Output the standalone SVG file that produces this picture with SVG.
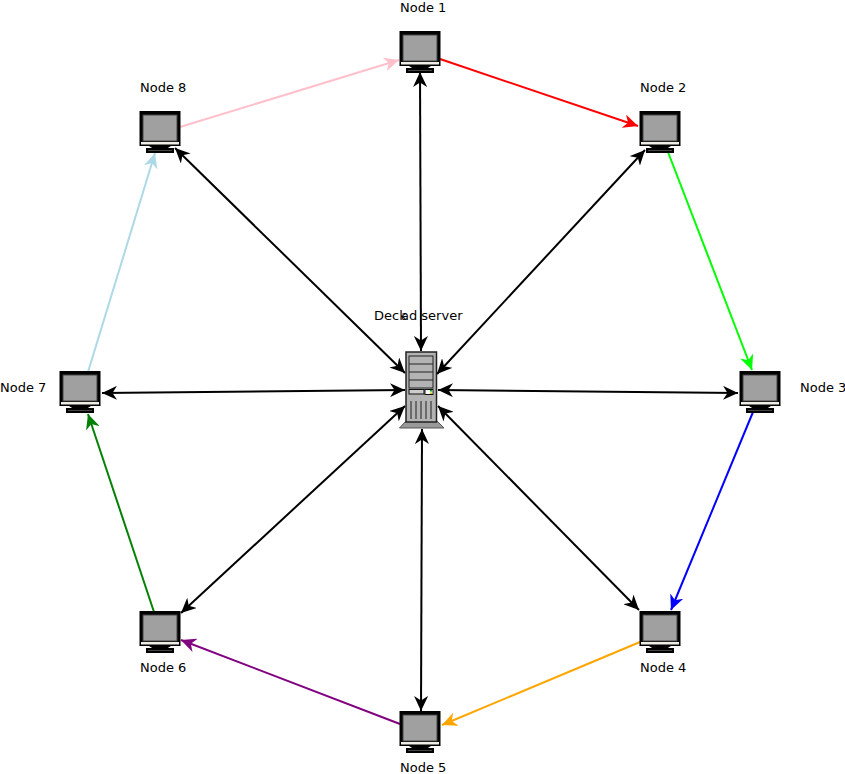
<svg xmlns="http://www.w3.org/2000/svg" xmlns:xlink="http://www.w3.org/1999/xlink" width="845" height="774" viewBox="0 0 845 774">
<style>
text{font-family:"DejaVu Sans",sans-serif;font-size:13px;fill:#000}
.c{fill:none;stroke-width:2}
.k{stroke:#000}
</style>
<defs>
<marker id="mk" markerUnits="userSpaceOnUse" markerWidth="16" markerHeight="14" refX="15" refY="7" orient="auto-start-reverse" viewBox="0 0 16 14"><path d="M0 0L15 7L0 14L4.500 7Z" fill="#000"/></marker>
<marker id="mpink" markerUnits="userSpaceOnUse" markerWidth="16" markerHeight="14" refX="15" refY="7" orient="auto" viewBox="0 0 16 14"><path d="M0 0L15 7L0 14L4.500 7Z" fill="#ffc0cb"/></marker>
<marker id="mred" markerUnits="userSpaceOnUse" markerWidth="16" markerHeight="14" refX="15" refY="7" orient="auto" viewBox="0 0 16 14"><path d="M0 0L15 7L0 14L4.500 7Z" fill="#f00"/></marker>
<marker id="mlime" markerUnits="userSpaceOnUse" markerWidth="16" markerHeight="14" refX="15" refY="7" orient="auto" viewBox="0 0 16 14"><path d="M0 0L15 7L0 14L4.500 7Z" fill="#0f0"/></marker>
<marker id="mblue" markerUnits="userSpaceOnUse" markerWidth="16" markerHeight="14" refX="15" refY="7" orient="auto" viewBox="0 0 16 14"><path d="M0 0L15 7L0 14L4.500 7Z" fill="#00f"/></marker>
<marker id="morange" markerUnits="userSpaceOnUse" markerWidth="16" markerHeight="14" refX="15" refY="7" orient="auto" viewBox="0 0 16 14"><path d="M0 0L15 7L0 14L4.500 7Z" fill="#ffa500"/></marker>
<marker id="mpurple" markerUnits="userSpaceOnUse" markerWidth="16" markerHeight="14" refX="15" refY="7" orient="auto" viewBox="0 0 16 14"><path d="M0 0L15 7L0 14L4.500 7Z" fill="#800080"/></marker>
<marker id="mgreen" markerUnits="userSpaceOnUse" markerWidth="16" markerHeight="14" refX="15" refY="7" orient="auto" viewBox="0 0 16 14"><path d="M0 0L15 7L0 14L4.500 7Z" fill="#008000"/></marker>
<marker id="mlb" markerUnits="userSpaceOnUse" markerWidth="16" markerHeight="14" refX="15" refY="7" orient="auto" viewBox="0 0 16 14"><path d="M0 0L15 7L0 14L4.500 7Z" fill="#add8e6"/></marker>
<g id="pc">
<rect x="-0.500" y="0" width="41" height="35" fill="#000"/>
<rect x="3" y="4" width="34" height="26" fill="#a0a0a0" stroke="#444" stroke-width="1"/>
<rect x="1" y="31" width="38" height="2.500" fill="#eeeee6"/>
<path d="M9 35H31L27 37.500H13Z" fill="#000"/>
<rect x="6" y="37" width="28" height="5" fill="#000"/>
<rect x="8" y="39" width="24" height="0.800" fill="#555"/>
</g>
</defs>
<g id="connectors">
<line class="c k" x1="420" y1="72" x2="421" y2="351" marker-start="url(#mk)" marker-end="url(#mk)"/>
<line class="c k" x1="645" y1="150" x2="437" y2="374" marker-start="url(#mk)" marker-end="url(#mk)"/>
<line class="c k" x1="738" y1="393" x2="438" y2="390" marker-start="url(#mk)" marker-end="url(#mk)"/>
<line class="c k" x1="639" y1="610" x2="438" y2="406" marker-start="url(#mk)" marker-end="url(#mk)"/>
<line class="c k" x1="421" y1="711" x2="422" y2="429" marker-start="url(#mk)" marker-end="url(#mk)"/>
<line class="c k" x1="181" y1="613" x2="405" y2="406" marker-start="url(#mk)" marker-end="url(#mk)"/>
<line class="c k" x1="102" y1="393" x2="405" y2="390" marker-start="url(#mk)" marker-end="url(#mk)"/>
<line class="c k" x1="175" y1="148" x2="405" y2="373" marker-start="url(#mk)" marker-end="url(#mk)"/>
<line class="c" stroke="#f00" x1="440" y1="59" x2="638" y2="126" marker-end="url(#mred)"/>
<line class="c" stroke="#0f0" x1="668" y1="152" x2="752" y2="370" marker-end="url(#mlime)"/>
<line class="c" stroke="#00f" x1="753" y1="412" x2="671" y2="610" marker-end="url(#mblue)"/>
<line class="c" stroke="#ffa500" x1="640" y1="642" x2="442" y2="725" marker-end="url(#morange)"/>
<line class="c" stroke="#800080" x1="400" y1="724" x2="181" y2="640" marker-end="url(#mpurple)"/>
<line class="c" stroke="#008000" x1="154" y1="612" x2="88" y2="414" marker-end="url(#mgreen)"/>
<line class="c" stroke="#add8e6" x1="88" y1="372" x2="155" y2="153" marker-end="url(#mlb)"/>
<line class="c" stroke="#ffc0cb" x1="180" y1="127" x2="399" y2="60" marker-end="url(#mpink)"/>
</g>
<g id="server">
<path d="M406 421H437L444 428H399.500Z" fill="#999" stroke="#555" stroke-width="1"/>
<rect x="406" y="352" width="30.500" height="70" fill="#b3b3b3" stroke="#222" stroke-width="1.500"/>
<rect x="409" y="356" width="24" height="32" fill="#b3b3b3" stroke="#222" stroke-width="1"/>
<path d="M409 364H433M409 372H433M409 380H433" stroke="#222" stroke-width="1"/>
<rect x="409" y="389.500" width="15" height="4.500" fill="#ccc" stroke="#111" stroke-width="1"/>
<rect x="425" y="389.500" width="8" height="5" fill="#fff" stroke="#111" stroke-width="1"/>
<rect x="430" y="390" width="2" height="1.500" fill="#0a0"/>
<rect x="430" y="392.500" width="2" height="1.500" fill="#cc0"/>
<path d="M411 401V419M416 401V419M421 401V419M426 401V419M431 401V419" stroke="#222" stroke-width="1"/>
<text x="374" y="320">Deck</text><text x="401" y="320">ad server</text>
</g>
<g id="node1"><use xlink:href="#pc" x="400" y="31"/><text x="400" y="12">Node 1</text></g>
<g id="node2"><use xlink:href="#pc" x="640" y="111"/><text x="640" y="92">Node 2</text></g>
<g id="node3"><use xlink:href="#pc" x="740" y="371"/><text x="800" y="392">Node 3</text></g>
<g id="node4"><use xlink:href="#pc" x="640" y="611"/><text x="640" y="672">Node 4</text></g>
<g id="node5"><use xlink:href="#pc" x="400" y="711"/><text x="400" y="772">Node 5</text></g>
<g id="node6"><use xlink:href="#pc" x="140" y="611"/><text x="140" y="672">Node 6</text></g>
<g id="node7"><use xlink:href="#pc" x="60" y="371"/><text x="0" y="392">Node 7</text></g>
<g id="node8"><use xlink:href="#pc" x="140" y="111"/><text x="140" y="92">Node 8</text></g>
</svg>
